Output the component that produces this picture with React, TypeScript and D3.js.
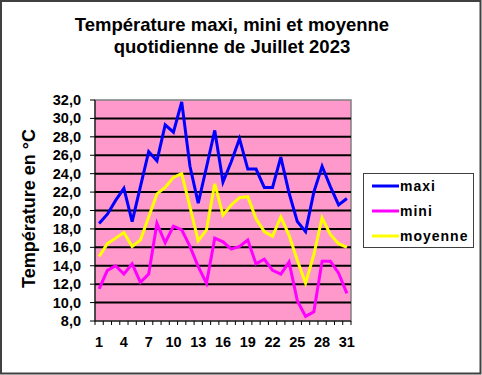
import React from "react";
import * as d3 from "d3";

const days: number[] = Array.from({ length: 31 }, (_, i) => i + 1);
const maxi = [18.6, 19.6, 21.1, 22.4, 18.8, 22.6, 26.4, 25.4, 29.3, 28.5, 31.8, 24.8, 20.8, 24.7, 28.7, 23.1, 25.3, 27.8, 24.5, 24.5, 22.5, 22.5, 25.8, 21.9, 18.8, 17.7, 22.0, 24.8, 22.6, 20.6, 21.3];
const mini = [11.5, 13.5, 14.0, 13.1, 14.2, 12.2, 13.1, 18.6, 16.5, 18.3, 17.9, 16.1, 13.9, 12.1, 17.0, 16.6, 15.8, 16.1, 16.8, 14.2, 14.7, 13.5, 13.1, 14.4, 10.2, 8.5, 9.0, 14.5, 14.5, 13.2, 11.0];
const moyenne = [15.0, 16.4, 17.0, 17.6, 16.1, 16.8, 19.3, 21.8, 22.5, 23.6, 24.0, 20.4, 16.7, 17.9, 22.9, 19.5, 20.6, 21.4, 21.5, 19.1, 17.7, 17.2, 19.3, 17.3, 14.6, 12.1, 15.2, 19.2, 17.4, 16.4, 16.0];
const yTicks = [8, 10, 12, 14, 16, 18, 20, 22, 24, 26, 28, 30, 32];
const xLabels = [1, 4, 7, 10, 13, 16, 19, 22, 25, 28, 31];
const seriesNames = ["maxi", "mini", "moyenne"];
const seriesColors = ["#0000FF", "#FF00FF", "#FFFF00"];

export default function App() {
  const W = 482, H = 375;
  const left = 95, right = 351, top = 100, bottom = 321;
  const x = d3.scaleBand<number>().domain(days).range([left, right]);
  const y = d3.scaleLinear().domain([8, 32]).range([bottom, top]);
  const cx = (d: number) => (x(d) as number) + x.bandwidth() / 2;
  const line = (vals: number[]) =>
    d3.line<number>().x((_, i) => cx(days[i])).y((v) => y(v))(vals) as string;
  const allSeries = [maxi, mini, moyenne];
  const font = "Arial, 'Liberation Sans', sans-serif";
  const fmt = (v: number) => v.toFixed(1).replace(".", ",");
  const tickEdges = days.map((d) => x(d) as number).concat([right]);

  return (
    <svg width={W} height={H} style={{ position: "absolute", left: 0, top: 0, fontFamily: font }}>
      <rect x={0} y={0} width={W} height={H} fill="#fff" />
      <rect x={1} y={1} width={W - 2.5} height={H - 2.5} fill="none" stroke="#404040" strokeWidth={2} />
      <text x={232} y={31} textAnchor="middle" fontSize={18.5} fontWeight="bold">Température maxi, mini et moyenne</text>
      <text x={232} y={53} textAnchor="middle" fontSize={18.5} fontWeight="bold">quotidienne de Juillet 2023</text>
      <text transform={`translate(35,${(top + bottom) / 2 - 2}) rotate(-90)`} textAnchor="middle" fontSize={18} fontWeight="bold">Température en °C</text>

      <rect x={left} y={top} width={right - left} height={bottom - top} fill="#FF99CC" stroke="#808080" strokeWidth={1.5} />
      {yTicks.filter((t) => t > 8 && t < 32).map((t) => (
        <line key={t} x1={left} x2={right} y1={y(t)} y2={y(t)} stroke="#000" strokeWidth={2} />
      ))}
      <line x1={left} x2={left} y1={top} y2={bottom} stroke="#000" strokeWidth={1} />
      <line x1={left} x2={right} y1={bottom} y2={bottom} stroke="#000" strokeWidth={1} />
      {yTicks.map((t) => (
        <g key={t}>
          <line x1={left - 5} x2={left} y1={y(t)} y2={y(t)} stroke="#000" />
          <text x={81} y={y(t) + 5} textAnchor="end" fontSize={14.5} fontWeight="bold">{fmt(t)}</text>
        </g>
      ))}
      {tickEdges.map((e, i) => (
        <line key={i} x1={e} x2={e} y1={bottom} y2={bottom + 4} stroke="#000" />
      ))}
      {xLabels.map((d) => (
        <text key={d} x={cx(d)} y={347} textAnchor="middle" fontSize={14.5} fontWeight="bold">{d}</text>
      ))}

      {allSeries.map((s, i) => (
        <path key={i} d={line(s)} fill="none" stroke={seriesColors[i]} strokeWidth={3} strokeLinejoin="miter" />
      ))}

      <rect x={363.5} y={173.5} width={110} height={74} fill="#fff" stroke="#404040" strokeWidth={1} />
      {seriesNames.map((n, i) => {
        const yy = [186, 211, 236][i];
        return (
          <g key={n}>
            <line x1={372} x2={399} y1={yy} y2={yy} stroke={seriesColors[i]} strokeWidth={3} />
            <text x={400} y={yy + 5} fontSize={14} fontWeight="bold" letterSpacing={1}>{n}</text>
          </g>
        );
      })}
    </svg>
  );
}
